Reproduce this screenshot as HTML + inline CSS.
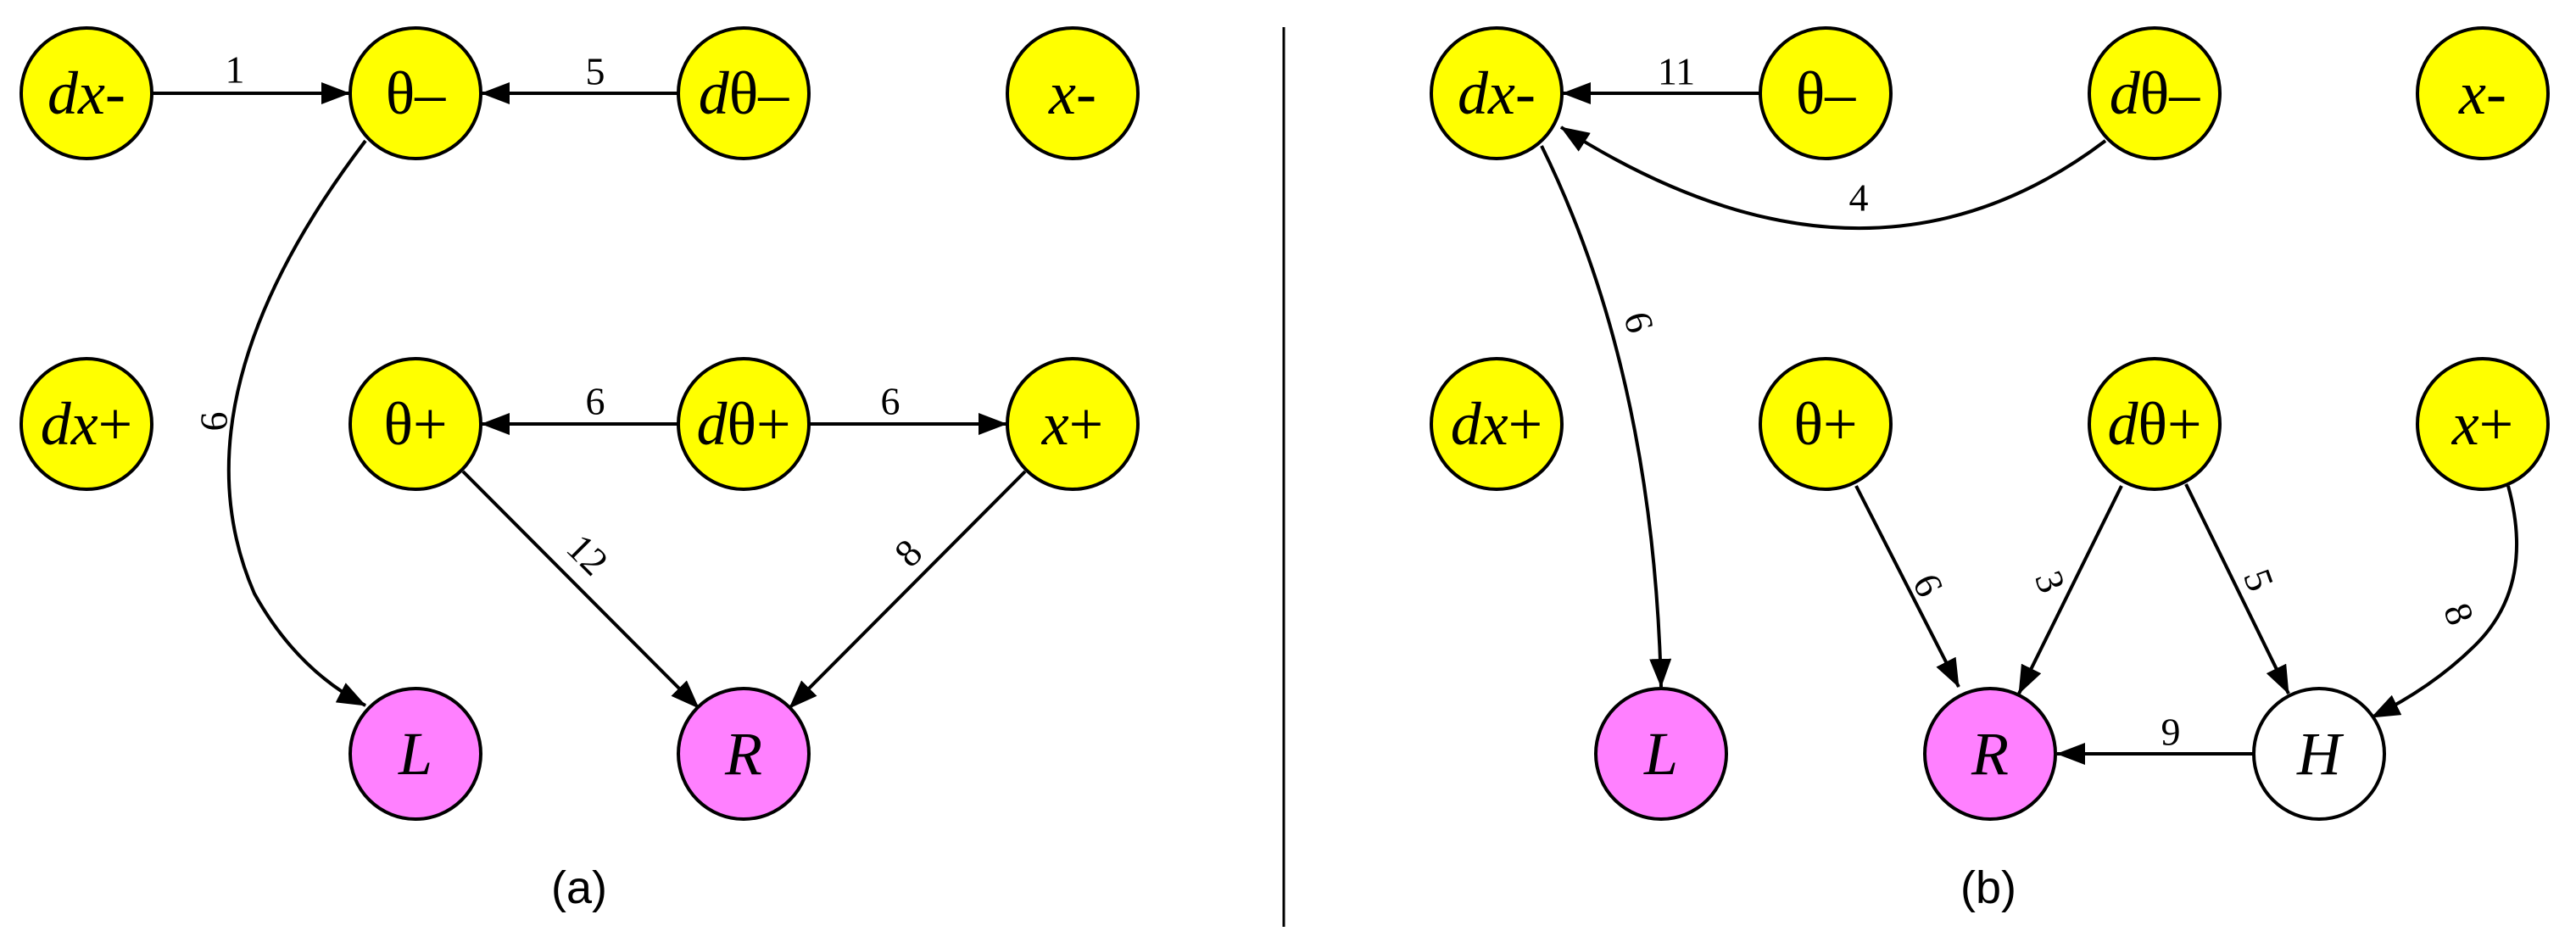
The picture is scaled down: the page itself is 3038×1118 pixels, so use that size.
<!DOCTYPE html>
<html><head><meta charset="utf-8"><style>
html,body{margin:0;padding:0;background:#fff;}
svg{display:block;}
.n{stroke:#000;stroke-width:4;}
.y{fill:#ffff00;}
.m{fill:#ff80ff;}
.w{fill:#fff;}
.t{font-family:"Liberation Serif",serif;font-size:72px;text-anchor:middle;dominant-baseline:central;}
.e{fill:none;stroke:#000;stroke-width:4;}
.l{font-family:"Liberation Serif",serif;font-size:46px;text-anchor:middle;dominant-baseline:central;}
.c{font-family:"Liberation Sans",sans-serif;font-size:54px;text-anchor:middle;dominant-baseline:central;}
</style></head><body>
<svg width="3038" height="1118" viewBox="0 0 3038 1118" xmlns="http://www.w3.org/2000/svg">
<defs>
<marker id="a" markerUnits="userSpaceOnUse" markerWidth="34" markerHeight="26" refX="33" refY="13" orient="auto">
<path d="M0,0 L34,13 L0,26 Z" fill="#000"/>
</marker>
</defs>

<!-- divider -->
<line x1="1514" y1="32" x2="1514" y2="1093" stroke="#000" stroke-width="3"/>

<!-- LEFT edges -->
<line class="e" x1="180" y1="110" x2="412" y2="110" marker-end="url(#a)"/>
<text class="l" x="277" y="82">1</text>
<line class="e" x1="800" y1="110" x2="568" y2="110" marker-end="url(#a)"/>
<text class="l" x="702" y="84">5</text>
<path class="e" d="M431,166 Q200,470 300,700 Q350,790 431,832" marker-end="url(#a)"/>
<text class="l" x="252" y="497" transform="rotate(-90 252 497)">6</text>
<line class="e" x1="800" y1="500" x2="568" y2="500" marker-end="url(#a)"/>
<text class="l" x="702" y="473">6</text>
<line class="e" x1="955" y1="500" x2="1187" y2="500" marker-end="url(#a)"/>
<text class="l" x="1050" y="473">6</text>
<line class="e" x1="546" y1="556" x2="824" y2="835" marker-end="url(#a)"/>
<text class="l" x="693" y="654" transform="rotate(45 693 654)">12</text>
<line class="e" x1="1209" y1="556" x2="931" y2="835" marker-end="url(#a)"/>
<text class="l" x="1071" y="652" transform="rotate(-45 1071 652)">8</text>

<!-- LEFT nodes -->
<circle class="n y" cx="102" cy="110" r="77"/><text class="t" x="102" y="110"><tspan font-style="italic">dx</tspan>-</text>
<circle class="n y" cx="490" cy="110" r="77"/><text class="t" x="490" y="110">θ–</text>
<circle class="n y" cx="877" cy="110" r="77"/><text class="t" x="877" y="110"><tspan font-style="italic">d</tspan>θ–</text>
<circle class="n y" cx="1265" cy="110" r="77"/><text class="t" x="1265" y="110"><tspan font-style="italic">x</tspan>-</text>
<circle class="n y" cx="102" cy="500" r="77"/><text class="t" x="102" y="500"><tspan font-style="italic">dx</tspan>+</text>
<circle class="n y" cx="490" cy="500" r="77"/><text class="t" x="490" y="500">θ+</text>
<circle class="n y" cx="877" cy="500" r="77"/><text class="t" x="877" y="500"><tspan font-style="italic">d</tspan>θ+</text>
<circle class="n y" cx="1265" cy="500" r="77"/><text class="t" x="1265" y="500"><tspan font-style="italic">x</tspan>+</text>
<circle class="n m" cx="490" cy="889" r="77"/><text class="t" x="490" y="889" font-style="italic">L</text>
<circle class="n m" cx="877" cy="889" r="77"/><text class="t" x="877" y="889" font-style="italic">R</text>
<text class="c" x="683" y="1047">(a)</text>

<!-- RIGHT edges -->
<line class="e" x1="2076" y1="110" x2="1843" y2="110" marker-end="url(#a)"/>
<text class="l" x="1977" y="84">11</text>
<path class="e" d="M2483,166 Q2200,380 1841,150" marker-end="url(#a)"/>
<text class="l" x="2192" y="233">4</text>
<path class="e" d="M1818,172 Q1950,440 1959,810" marker-end="url(#a)"/>
<text class="l" x="1933" y="380" transform="rotate(75 1933 380)">6</text>
<line class="e" x1="2189" y1="573" x2="2310" y2="810" marker-end="url(#a)"/>
<text class="l" x="2274" y="690" transform="rotate(65 2274 690)">6</text>
<line class="e" x1="2502" y1="573" x2="2381" y2="818" marker-end="url(#a)"/>
<text class="l" x="2418" y="686" transform="rotate(70 2418 686)">3</text>
<line class="e" x1="2578" y1="571" x2="2699" y2="818" marker-end="url(#a)"/>
<text class="l" x="2664" y="684" transform="rotate(70 2664 684)">5</text>
<path class="e" d="M2958,573 Q2990,690 2920,760 Q2870,810 2797,846" marker-end="url(#a)"/>
<text class="l" x="2900" y="724" transform="rotate(70 2900 724)">8</text>
<line class="e" x1="2658" y1="889" x2="2426" y2="889" marker-end="url(#a)"/>
<text class="l" x="2560" y="863">9</text>

<!-- RIGHT nodes -->
<circle class="n y" cx="1765" cy="110" r="77"/><text class="t" x="1765" y="110"><tspan font-style="italic">dx</tspan>-</text>
<circle class="n y" cx="2153" cy="110" r="77"/><text class="t" x="2153" y="110">θ–</text>
<circle class="n y" cx="2541" cy="110" r="77"/><text class="t" x="2541" y="110"><tspan font-style="italic">d</tspan>θ–</text>
<circle class="n y" cx="2928" cy="110" r="77"/><text class="t" x="2928" y="110"><tspan font-style="italic">x</tspan>-</text>
<circle class="n y" cx="1765" cy="500" r="77"/><text class="t" x="1765" y="500"><tspan font-style="italic">dx</tspan>+</text>
<circle class="n y" cx="2153" cy="500" r="77"/><text class="t" x="2153" y="500">θ+</text>
<circle class="n y" cx="2541" cy="500" r="77"/><text class="t" x="2541" y="500"><tspan font-style="italic">d</tspan>θ+</text>
<circle class="n y" cx="2928" cy="500" r="77"/><text class="t" x="2928" y="500"><tspan font-style="italic">x</tspan>+</text>
<circle class="n m" cx="1959" cy="889" r="77"/><text class="t" x="1959" y="889" font-style="italic">L</text>
<circle class="n m" cx="2347" cy="889" r="77"/><text class="t" x="2347" y="889" font-style="italic">R</text>
<circle class="n w" cx="2735" cy="889" r="77"/><text class="t" x="2735" y="889" font-style="italic">H</text>
<text class="c" x="2345" y="1047">(b)</text>
</svg>
</body></html>
